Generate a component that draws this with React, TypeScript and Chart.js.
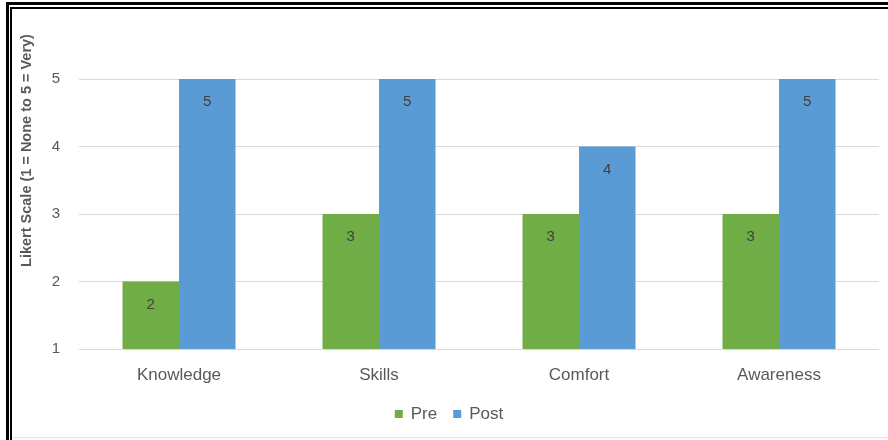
import React, { useEffect, useRef } from "react";
import { Chart, registerables } from "chart.js";

Chart.register(...registerables);

// Survey ratings before and after the session (1 = None to 5 = Very)
const categories = ["Knowledge", "Skills", "Comfort", "Awareness"];
const preValues = [2, 3, 3, 3];
const postValues = [5, 5, 4, 5];
const yTicks = [1, 2, 3, 4, 5];
const seriesNames = ["Pre", "Post"];
const yTitle = "Likert Scale (1 = None to 5 = Very)";

const GREEN = "#70AD47";
const BLUE = "#5B9BD5";
const FONT = "'Liberation Sans', Arial, sans-serif";

// Value labels placed just inside the top of each bar
const valueLabels = {
  id: "valueLabels",
  afterDatasetsDraw(chart: any) {
    const ctx = chart.ctx;
    ctx.save();
    ctx.font = `15px ${FONT}`;
    ctx.fillStyle = "#404040";
    ctx.textAlign = "center";
    ctx.textBaseline = "middle";
    chart.data.datasets.forEach((ds: any, i: number) => {
      const meta = chart.getDatasetMeta(i);
      meta.data.forEach((bar: any, j: number) => {
        ctx.fillText(String(ds.data[j]), bar.x, bar.y + 23);
      });
    });
    ctx.restore();
  },
};

// Rotated axis title and the bottom legend
const decorations = {
  id: "decorations",
  afterDraw(chart: any) {
    const ctx = chart.ctx;
    ctx.save();
    ctx.translate(17, 140.5);
    ctx.rotate(-Math.PI / 2);
    ctx.font = `bold 14.5px ${FONT}`;
    ctx.fillStyle = "#595959";
    ctx.textAlign = "center";
    ctx.textBaseline = "middle";
    ctx.fillText(yTitle, 0, 0);
    ctx.restore();

    ctx.save();
    ctx.font = `17px ${FONT}`;
    ctx.textBaseline = "middle";
    ctx.textAlign = "left";
    const box = 8;
    const gap = 8;
    const between = 16;
    const items = chart.data.datasets.map((ds: any) => ({
      label: ds.label,
      color: ds.backgroundColor,
      w: box + gap + ctx.measureText(ds.label).width,
    }));
    const total =
      items.reduce((s: number, it: any) => s + it.w, 0) + between * (items.length - 1);
    let x = chart.width / 2 - total / 2;
    const y = 404;
    items.forEach((it: any) => {
      ctx.fillStyle = it.color;
      ctx.fillRect(x, y - box / 2, box, box);
      ctx.fillStyle = "#595959";
      ctx.fillText(it.label, x + box + gap, y);
      x += it.w + between;
    });
    ctx.restore();
  },
};

export default function App() {
  const canvasRef = useRef<HTMLCanvasElement | null>(null);

  useEffect(() => {
    if (!canvasRef.current) return;
    const chart = new Chart(canvasRef.current, {
      type: "bar",
      data: {
        labels: categories,
        datasets: [
          { label: seriesNames[0], data: preValues, backgroundColor: GREEN },
          { label: seriesNames[1], data: postValues, backgroundColor: BLUE },
        ],
      },
      options: {
        responsive: false,
        animation: false,
        devicePixelRatio: 1,
        layout: { padding: { top: 69, right: 9, bottom: 37, left: 0 } },
        plugins: {
          legend: { display: false },
          tooltip: { enabled: false },
        },
        datasets: {
          bar: { categoryPercentage: 0.565, barPercentage: 1.0 },
        },
        scales: {
          x: {
            grid: { display: false },
            border: { display: false },
            ticks: {
              color: "#595959",
              font: { family: FONT, size: 17 },
              padding: 8,
            },
            afterFit(scale: any) {
              scale.height = 50;
            },
          },
          y: {
            min: 1,
            max: 5,
            afterBuildTicks(scale: any) {
              scale.ticks = yTicks.map((v) => ({ value: v }));
            },
            grid: { color: "#d9d9d9", lineWidth: 1, drawTicks: false },
            border: { display: false },
            ticks: {
              color: "#595959",
              font: { family: FONT, size: 15 },
              padding: 19,
            },
            afterFit(scale: any) {
              scale.width = 69;
            },
          },
        },
      },
      plugins: [valueLabels, decorations],
    });
    return () => chart.destroy();
  }, []);

  const line = (s: React.CSSProperties): React.CSSProperties => ({
    position: "absolute",
    background: "#000",
    ...s,
  });

  return (
    <div
      style={{
        position: "absolute",
        left: 0,
        top: 0,
        width: 888,
        height: 440,
        background: "#fff",
        overflow: "hidden",
      }}
    >
      <canvas
        ref={canvasRef}
        width={878}
        height={426}
        style={{ position: "absolute", left: 10, top: 10, width: 878, height: 426 }}
      />
      <div style={line({ left: 6, top: 2, width: 882, height: 3 })} />
      <div style={line({ left: 10, top: 7, width: 878, height: 2 })} />
      <div style={line({ left: 6, top: 2, width: 3, height: 438 })} />
      <div style={line({ left: 10, top: 7, width: 2, height: 433 })} />
      <div style={line({ left: 12, top: 437, width: 876, height: 1, background: "#e3e3e3" })} />
    </div>
  );
}
